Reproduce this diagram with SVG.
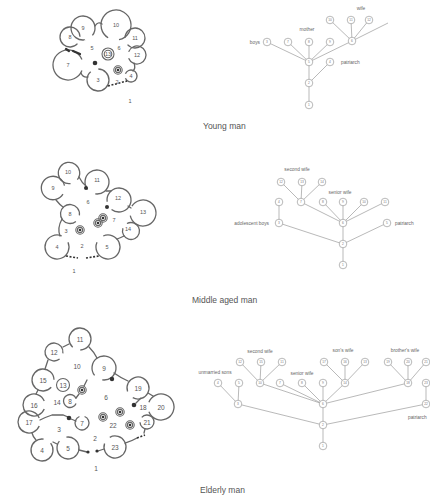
<svg xmlns="http://www.w3.org/2000/svg" xmlns:xlink="http://www.w3.org/1999/xlink" width="430" height="499" viewBox="0 0 430 499">
<style>
.bg{fill:#fff}
.room{fill:none;stroke:#666;stroke-width:1.3;stroke-dasharray:88 12}
.ring{fill:none;stroke:#666;stroke-width:1.1}
.wall{fill:none;stroke:#666;stroke-width:1.3;stroke-linecap:round}
.door{fill:none;stroke:#333;stroke-width:1.6;stroke-dasharray:2 1.6}
.blk{fill:#333}
.mark{fill:none;stroke:#333;stroke-width:2.2;stroke-linecap:round}
.pn{font-family:"Liberation Sans",Arial,sans-serif;font-size:5.5px;fill:#555;text-anchor:middle;dominant-baseline:central}
.pn2{font-family:"Liberation Sans",Arial,sans-serif;font-size:6.5px;fill:#555;text-anchor:middle;dominant-baseline:central}
.edge{stroke:#8a8a8a;stroke-width:0.6;fill:none}
.tn circle{fill:#fff;stroke:#8a8a8a;stroke-width:0.6}
.tn text{font-family:"Liberation Sans",Arial,sans-serif;font-size:3.2px;fill:#777;text-anchor:middle;dominant-baseline:central}
.lbl{font-family:"Liberation Sans",Arial,sans-serif;font-size:4.8px;fill:#666}
.cap{font-family:"Liberation Sans",Arial,sans-serif;font-size:8.5px;fill:#555}
</style>
<defs>
<g id="spiral"><circle r="4.2" class="ring"/><circle r="2.6" class="ring"/><circle r="1.3" class="blk"/></g>
</defs>
<rect class="bg" width="430" height="499"/>

<!-- ===== Young man plan ===== -->
<g id="plan-young">
<circle class="room" pathLength="100" cx="83" cy="28" r="12" transform="rotate(81.6 83 28)"/>
<circle class="room" pathLength="100" cx="116" cy="25" r="15" transform="rotate(121.6 116 25)"/>
<circle class="room" pathLength="100" cx="70" cy="37" r="10" transform="rotate(41.6 70 37)"/>
<circle class="room" pathLength="100" cx="135" cy="38" r="10" transform="rotate(181.6 135 38)"/>
<circle class="room" pathLength="100" cx="137" cy="55" r="9" transform="rotate(201.6 137 55)"/>
<circle class="room" pathLength="100" cx="68" cy="65" r="15" transform="rotate(21.6 68 65)"/>
<circle class="room" pathLength="100" cx="98" cy="80" r="11" transform="rotate(271.6 98 80)"/>
<circle class="room" pathLength="100" cx="131" cy="76" r="6" transform="rotate(201.6 131 76)"/>
<circle class="ring" cx="108" cy="54" r="6"/>
<circle class="ring" cx="108" cy="54" r="3.8"/>
<path class="wall" d="M95,26 Q98,21 102,24"/>
<path class="wall" d="M134,63 Q136,68 133,71"/>
<path class="wall" d="M81,73 Q83,78 88,77"/>
<path class="door" d="M108,86 L127,81"/>
<path class="mark" d="M66,49 L69,51 M73,51 L80,54"/>
<circle class="blk" cx="95" cy="63" r="2.3"/>
<use xlink:href="#spiral" x="118" y="70"/>
<text class="pn" x="83" y="28">9</text>
<text class="pn" x="116" y="25">10</text>
<text class="pn" x="70" y="37">8</text>
<text class="pn" x="135" y="38">11</text>
<text class="pn" x="137" y="55">12</text>
<text class="pn" x="68" y="65">7</text>
<text class="pn" x="98" y="80">3</text>
<text class="pn" x="131" y="76">4</text>
<text class="pn" x="108" y="54">13</text>
<text class="pn" x="92" y="48">5</text>
<text class="pn" x="119" y="48">6</text>
<text class="pn" x="117" y="82">2</text>
<text class="pn" x="130" y="101">1</text>
</g>

<!-- ===== Middle aged man plan ===== -->
<g id="plan-middle">
<circle class="room" pathLength="100" cx="69" cy="173" r="10.7" transform="rotate(81.6 69 173)"/>
<circle class="room" pathLength="100" cx="53" cy="188" r="11.7" transform="rotate(31.6 53 188)"/>
<circle class="room" pathLength="100" cx="97" cy="182" r="12" transform="rotate(141.6 97 182)"/>
<circle class="room" pathLength="100" cx="119" cy="200" r="12" transform="rotate(171.6 119 200)"/>
<circle class="room" pathLength="100" cx="143" cy="213" r="13" transform="rotate(211.6 143 213)"/>
<circle class="room" pathLength="100" cx="131" cy="231" r="8.5" transform="rotate(241.6 131 231)"/>
<circle class="room" pathLength="100" cx="70" cy="214" r="9.5" transform="rotate(51.6 70 214)"/>
<circle class="room" pathLength="100" cx="57" cy="247" r="12" transform="rotate(336.6 57 247)"/>
<circle class="room" pathLength="100" cx="108" cy="247" r="12" transform="rotate(246.6 108 247)"/>
<path class="wall" d="M79,177 Q82,183 86,186"/>
<path class="wall" d="M106,191 L111,191"/>
<path class="wall" d="M128,206 L131,208"/>
<path class="wall" d="M124,236 Q120,238 117,239"/>
<path class="wall" d="M56,200 Q60,205 63,207"/>
<path class="wall" d="M62,219 Q57,228 60,236"/>
<path class="door" d="M66,256 L78,258"/>
<path class="door" d="M86,258 L99,256"/>
<circle class="blk" cx="86" cy="188" r="2"/>
<circle class="blk" cx="107" cy="207" r="2"/>
<use xlink:href="#spiral" x="80" y="230"/>
<use xlink:href="#spiral" x="98" y="223"/>
<use xlink:href="#spiral" x="103" y="218"/>
<text class="pn" x="68" y="172">10</text>
<text class="pn" x="53" y="188">9</text>
<text class="pn" x="97" y="180">11</text>
<text class="pn" x="88" y="202">6</text>
<text class="pn" x="118" y="198">12</text>
<text class="pn" x="143" y="212">13</text>
<text class="pn" x="70" y="214">8</text>
<text class="pn" x="114" y="220">7</text>
<text class="pn" x="66" y="231">3</text>
<text class="pn" x="128" y="229">14</text>
<text class="pn" x="57" y="247">4</text>
<text class="pn" x="82" y="246">2</text>
<text class="pn" x="107" y="247">5</text>
<text class="pn" x="74" y="271">1</text>
</g>

<!-- ===== Elderly man plan ===== -->
<g id="plan-elderly">
<circle class="room" pathLength="100" cx="80" cy="339" r="11" transform="rotate(131.6 80 339)"/>
<circle class="room" pathLength="100" cx="54" cy="352" r="9" transform="rotate(51.6 54 352)"/>
<circle class="room" pathLength="100" cx="104" cy="368" r="12" transform="rotate(141.6 104 368)"/>
<circle class="room" pathLength="100" cx="43" cy="380" r="11" transform="rotate(41.6 43 380)"/>
<circle class="ring" cx="63" cy="385" r="6.5"/>
<circle class="room" pathLength="100" cx="70" cy="401" r="6.5" transform="rotate(21.6 70 401)"/>
<circle class="room" pathLength="100" cx="138" cy="388" r="11" transform="rotate(161.6 138 388)"/>
<circle class="room" pathLength="100" cx="161" cy="407" r="13" transform="rotate(201.6 161 407)"/>
<circle class="room" pathLength="100" cx="34" cy="405" r="11" transform="rotate(21.6 34 405)"/>
<circle class="room" pathLength="100" cx="147" cy="422" r="7" transform="rotate(221.6 147 422)"/>
<circle class="room" pathLength="100" cx="29" cy="422" r="11" transform="rotate(21.6 29 422)"/>
<circle class="room" pathLength="100" cx="82" cy="423" r="7" transform="rotate(291.6 82 423)"/>
<circle class="room" pathLength="100" cx="42" cy="450" r="11" transform="rotate(321.6 42 450)"/>
<circle class="room" pathLength="100" cx="68" cy="448" r="11" transform="rotate(261.6 68 448)"/>
<circle class="room" pathLength="100" cx="115" cy="447" r="11" transform="rotate(241.6 115 447)"/>
<path class="wall" d="M63,347 L69,344"/>
<path class="wall" d="M89,347 Q94,352 97,358"/>
<path class="wall" d="M48,360 L45,369"/>
<path class="wall" d="M38,390 L36,394"/>
<path class="wall" d="M32,433 Q33,437 36,440"/>
<path class="wall" d="M53,442 L57,444"/>
<path class="wall" d="M79,450 L87,452"/>
<path class="wall" d="M98,451 L104,449"/>
<circle class="blk" cx="88" cy="452" r="1.6"/>
<circle class="blk" cx="97" cy="451" r="1.6"/>
<path class="wall" d="M125,443 Q132,441 137,438"/>
<path class="door" d="M137,438 L145,435"/>
<path class="wall" d="M144,433 L145,429"/>
<path class="wall" d="M148,393 L153,396"/>
<path class="wall" d="M114,373 Q121,378 128,381"/>
<circle class="blk" cx="112" cy="379" r="2.2"/>
<path class="wall" d="M87,380 L84,386"/>
<path class="wall" d="M76,398 L79,394"/>
<path class="wall" d="M40,420 Q46,417 52,415 L63,415 L68,417"/>
<circle class="blk" cx="69" cy="418" r="2.3"/>
<path class="wall" d="M71,419 L76,421"/>
<circle class="blk" cx="134" cy="405" r="2.3"/>
<path class="wall" d="M141,398 L136,403"/>
<use xlink:href="#spiral" x="82" y="390"/>
<use xlink:href="#spiral" x="103" y="417"/>
<use xlink:href="#spiral" x="120" y="412"/>
<use xlink:href="#spiral" x="130" y="425"/>
<text class="pn2" x="80" y="339">11</text>
<text class="pn2" x="54" y="352">12</text>
<text class="pn2" x="77" y="366">10</text>
<text class="pn2" x="104" y="368">9</text>
<text class="pn2" x="43" y="380">15</text>
<text class="pn2" x="63" y="385">13</text>
<text class="pn2" x="57" y="402">14</text>
<text class="pn2" x="70" y="401">8</text>
<text class="pn2" x="106" y="397">6</text>
<text class="pn2" x="138" y="388">19</text>
<text class="pn2" x="143" y="407">18</text>
<text class="pn2" x="161" y="407">20</text>
<text class="pn2" x="34" y="405">16</text>
<text class="pn2" x="147" y="422">21</text>
<text class="pn2" x="29" y="422">17</text>
<text class="pn2" x="82" y="423">7</text>
<text class="pn2" x="59" y="429">3</text>
<text class="pn2" x="113" y="425">22</text>
<text class="pn2" x="95" y="438">2</text>
<text class="pn2" x="42" y="450">4</text>
<text class="pn2" x="68" y="448">5</text>
<text class="pn2" x="115" y="447">23</text>
<text class="pn2" x="96" y="468">1</text>
</g>

<!-- ===== Connectors ===== -->
<g id="connectors" class="edge">
<!-- young -->
<line x1="309" y1="105" x2="309" y2="83"/>
<line x1="309" y1="83" x2="309" y2="62"/>
<line x1="330" y1="62" x2="309" y2="83"/>
<line x1="309" y1="62" x2="267" y2="42"/>
<line x1="309" y1="62" x2="288" y2="42"/>
<line x1="309" y1="62" x2="309" y2="42"/>
<line x1="309" y1="62" x2="330" y2="42"/>
<line x1="309" y1="62" x2="352" y2="41"/>
<line x1="352" y1="41" x2="330" y2="20"/>
<line x1="352" y1="41" x2="351" y2="20"/>
<line x1="352" y1="41" x2="369" y2="20"/>
<line x1="352" y1="41" x2="388" y2="23"/>
<!-- middle -->
<line x1="343" y1="265" x2="343" y2="244"/>
<line x1="343" y1="244" x2="343" y2="223"/>
<line x1="343" y1="244" x2="279" y2="223"/>
<line x1="343" y1="244" x2="387" y2="223"/>
<line x1="279" y1="223" x2="279" y2="202"/>
<line x1="343" y1="223" x2="301" y2="202"/>
<line x1="343" y1="223" x2="323" y2="202"/>
<line x1="343" y1="223" x2="343" y2="202"/>
<line x1="343" y1="223" x2="364" y2="202"/>
<line x1="343" y1="223" x2="385" y2="202"/>
<line x1="301" y1="202" x2="281" y2="182"/>
<line x1="301" y1="202" x2="302" y2="182"/>
<line x1="301" y1="202" x2="322" y2="182"/>
<!-- elderly -->
<line x1="323" y1="446" x2="323" y2="425"/>
<line x1="323" y1="425" x2="323" y2="404"/>
<line x1="323" y1="425" x2="238" y2="404"/>
<line x1="323" y1="425" x2="426" y2="404"/>
<line x1="426" y1="404" x2="426" y2="383"/>
<line x1="238" y1="404" x2="218" y2="383"/>
<line x1="238" y1="404" x2="239" y2="383"/>
<line x1="323" y1="404" x2="260" y2="383"/>
<line x1="323" y1="404" x2="280" y2="383"/>
<line x1="323" y1="404" x2="302" y2="383"/>
<line x1="323" y1="404" x2="323" y2="383"/>
<line x1="323" y1="404" x2="345" y2="383"/>
<line x1="323" y1="404" x2="408" y2="383"/>
<line x1="260" y1="383" x2="240" y2="362"/>
<line x1="260" y1="383" x2="261" y2="362"/>
<line x1="260" y1="383" x2="282" y2="362"/>
<line x1="345" y1="383" x2="324" y2="362"/>
<line x1="345" y1="383" x2="345" y2="362"/>
<line x1="345" y1="383" x2="365" y2="362"/>
<line x1="408" y1="383" x2="388" y2="362"/>
<line x1="408" y1="383" x2="408" y2="362"/>
<line x1="408" y1="383" x2="426" y2="362"/>
</g>

<!-- ===== Young man tree nodes ===== -->
<g id="y1" class="tn"><circle cx="309" cy="105" r="3.8"/><text x="309" y="105">1</text></g>
<g id="y2" class="tn"><circle cx="309" cy="83" r="3.8"/><text x="309" y="83">2</text></g>
<g id="y5" class="tn"><circle cx="309" cy="62" r="3.8"/><text x="309" y="62">5</text></g>
<g id="y4" class="tn"><circle cx="330" cy="62" r="3.8"/><text x="330" y="62">4</text></g>
<g id="y3" class="tn"><circle cx="267" cy="42" r="3.8"/><text x="267" y="42">3</text></g>
<g id="y7" class="tn"><circle cx="288" cy="42" r="3.8"/><text x="288" y="42">7</text></g>
<g id="y8" class="tn"><circle cx="309" cy="42" r="3.8"/><text x="309" y="42">8</text></g>
<g id="y9" class="tn"><circle cx="330" cy="42" r="3.8"/><text x="330" y="42">9</text></g>
<g id="y6" class="tn"><circle cx="352" cy="41" r="3.8"/><text x="352" y="41">6</text></g>
<g id="y10" class="tn"><circle cx="330" cy="20" r="3.8"/><text x="330" y="20">10</text></g>
<g id="y11" class="tn"><circle cx="351" cy="20" r="3.8"/><text x="351" y="20">11</text></g>
<g id="y12" class="tn"><circle cx="369" cy="20" r="3.8"/><text x="369" y="20">12</text></g>

<!-- ===== Middle aged man tree nodes ===== -->
<g id="m1" class="tn"><circle cx="343" cy="265" r="3.8"/><text x="343" y="265">1</text></g>
<g id="m2" class="tn"><circle cx="343" cy="244" r="3.8"/><text x="343" y="244">2</text></g>
<g id="m6" class="tn"><circle cx="343" cy="223" r="3.8"/><text x="343" y="223">6</text></g>
<g id="m5" class="tn"><circle cx="387" cy="223" r="3.8"/><text x="387" y="223">5</text></g>
<g id="m3" class="tn"><circle cx="279" cy="223" r="3.8"/><text x="279" y="223">3</text></g>
<g id="m4" class="tn"><circle cx="279" cy="202" r="3.8"/><text x="279" y="202">4</text></g>
<g id="m7" class="tn"><circle cx="301" cy="202" r="3.8"/><text x="301" y="202">7</text></g>
<g id="m8" class="tn"><circle cx="323" cy="202" r="3.8"/><text x="323" y="202">8</text></g>
<g id="m9" class="tn"><circle cx="343" cy="202" r="3.8"/><text x="343" y="202">9</text></g>
<g id="m10" class="tn"><circle cx="364" cy="202" r="3.8"/><text x="364" y="202">10</text></g>
<g id="m11" class="tn"><circle cx="385" cy="202" r="3.8"/><text x="385" y="202">11</text></g>
<g id="m12" class="tn"><circle cx="281" cy="182" r="3.8"/><text x="281" y="182">12</text></g>
<g id="m13" class="tn"><circle cx="302" cy="182" r="3.8"/><text x="302" y="182">13</text></g>
<g id="m14" class="tn"><circle cx="322" cy="182" r="3.8"/><text x="322" y="182">14</text></g>

<!-- ===== Elderly man tree nodes ===== -->
<g id="e1" class="tn"><circle cx="323" cy="446" r="3.8"/><text x="323" y="446">1</text></g>
<g id="e2" class="tn"><circle cx="323" cy="425" r="3.8"/><text x="323" y="425">2</text></g>
<g id="e6" class="tn"><circle cx="323" cy="404" r="3.8"/><text x="323" y="404">6</text></g>
<g id="e3" class="tn"><circle cx="238" cy="404" r="3.8"/><text x="238" y="404">3</text></g>
<g id="e22" class="tn"><circle cx="426" cy="404" r="3.8"/><text x="426" y="404">22</text></g>
<g id="e23" class="tn"><circle cx="426" cy="383" r="3.8"/><text x="426" y="383">23</text></g>
<g id="e4" class="tn"><circle cx="218" cy="383" r="3.8"/><text x="218" y="383">4</text></g>
<g id="e5" class="tn"><circle cx="239" cy="383" r="3.8"/><text x="239" y="383">5</text></g>
<g id="e10" class="tn"><circle cx="260" cy="383" r="3.8"/><text x="260" y="383">10</text></g>
<g id="e7" class="tn"><circle cx="280" cy="383" r="3.8"/><text x="280" y="383">7</text></g>
<g id="e8" class="tn"><circle cx="302" cy="383" r="3.8"/><text x="302" y="383">8</text></g>
<g id="e9" class="tn"><circle cx="323" cy="383" r="3.8"/><text x="323" y="383">9</text></g>
<g id="e14" class="tn"><circle cx="345" cy="383" r="3.8"/><text x="345" y="383">14</text></g>
<g id="e18" class="tn"><circle cx="408" cy="383" r="3.8"/><text x="408" y="383">18</text></g>
<g id="e12" class="tn"><circle cx="240" cy="362" r="3.8"/><text x="240" y="362">12</text></g>
<g id="e15" class="tn"><circle cx="261" cy="362" r="3.8"/><text x="261" y="362">15</text></g>
<g id="e11" class="tn"><circle cx="282" cy="362" r="3.8"/><text x="282" y="362">11</text></g>
<g id="e17" class="tn"><circle cx="324" cy="362" r="3.8"/><text x="324" y="362">17</text></g>
<g id="e16" class="tn"><circle cx="345" cy="362" r="3.8"/><text x="345" y="362">16</text></g>
<g id="e13" class="tn"><circle cx="365" cy="362" r="3.8"/><text x="365" y="362">13</text></g>
<g id="e19" class="tn"><circle cx="388" cy="362" r="3.8"/><text x="388" y="362">19</text></g>
<g id="e20" class="tn"><circle cx="408" cy="362" r="3.8"/><text x="408" y="362">20</text></g>
<g id="e21" class="tn"><circle cx="426" cy="362" r="3.8"/><text x="426" y="362">21</text></g>

<!-- ===== Tree labels ===== -->
<g id="labels">
<text class="lbl" x="260" y="43.7" text-anchor="end">boys</text>
<text class="lbl" x="307" y="30.5" text-anchor="middle">mother</text>
<text class="lbl" x="361" y="9.5" text-anchor="middle">wife</text>
<text class="lbl" x="341" y="63.7">patriarch</text>
<text class="lbl" x="297" y="170.5" text-anchor="middle">second wife</text>
<text class="lbl" x="340" y="193.5" text-anchor="middle">senior wife</text>
<text class="lbl" x="269" y="224.7" text-anchor="end">adolescent boys</text>
<text class="lbl" x="395" y="224.7">patriarch</text>
<text class="lbl" x="215" y="373.5" text-anchor="middle">unmarried sons</text>
<text class="lbl" x="260" y="352.5" text-anchor="middle">second wife</text>
<text class="lbl" x="302" y="374.5" text-anchor="middle">senior wife</text>
<text class="lbl" x="343" y="351.5" text-anchor="middle">son's wife</text>
<text class="lbl" x="405" y="351.5" text-anchor="middle">brother's wife</text>
<text class="lbl" x="408" y="419">patriarch</text>
<text class="cap" x="203" y="128.5">Young man</text>
<text class="cap" x="192" y="303">Middle aged man</text>
<text class="cap" x="200" y="492.5">Elderly man</text>
</g>
</svg>
